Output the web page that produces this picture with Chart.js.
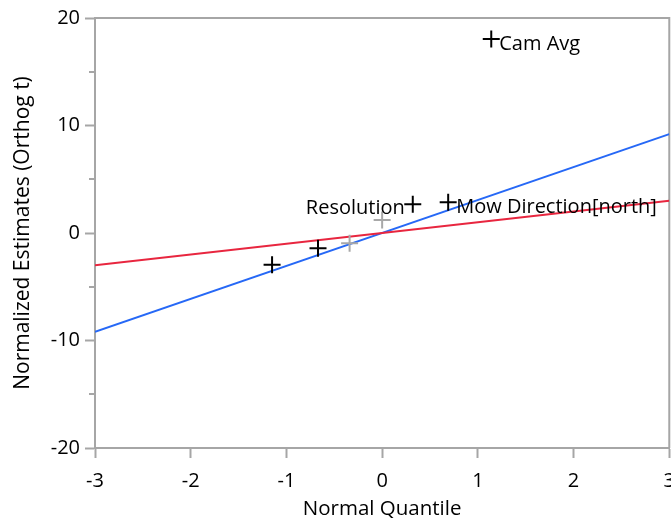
<!DOCTYPE html>
<html>
<head>
<meta charset="utf-8">
<script src="https://cdn.jsdelivr.net/npm/chart.js@4/dist/chart.umd.min.js"></script>
<style>
  html, body { margin: 0; padding: 0; background: #fff; overflow: hidden; }
  #wrap { width: 671px; height: 520px; overflow: hidden; }
</style>
</head>
<body>
<div id="wrap"><canvas id="c" width="686" height="520"></canvas></div>
<script>
// ---- data ----
const quantiles  = [-1.15, -0.67, -0.34, 0.0, 0.32, 0.69, 1.14];
const estimates  = [-2.95, -1.42, -0.95, 1.2, 2.67, 2.85, 18.05];
const pointNames = ['', '', '', '', 'Resolution', 'Mow Direction[north]', 'Cam Avg'];
const isSignificant = [true, true, false, false, true, true, true];
const refLineX  = [-3, 3];
const redLineY  = [-3, 3];
const blueLineY = [-9.2, 9.2];
const xTicks = [-3, -2, -1, 0, 1, 2, 3];
const yTicks = [-20, -10, 0, 10, 20];
const yMinorTicks = [-15, -5, 5, 15];

const FONT = '"Open Sans", "Noto Sans", sans-serif';
const AXIS_GRAY = '#a6a6a6';

const toXY = (xs, ys) => xs.map((x, i) => ({ x: x, y: ys[i] }));

const framePlugin = {
  id: 'frame',
  beforeDatasetsDraw(chart) {
    const { ctx, chartArea: a, scales } = chart;
    ctx.save();
    ctx.strokeStyle = AXIS_GRAY;
    ctx.lineWidth = 2;
    ctx.beginPath();
    ctx.moveTo(a.left, a.top); ctx.lineTo(a.right, a.top); ctx.lineTo(a.right, a.bottom);
    ctx.stroke();
    // minor y ticks
    ctx.beginPath();
    yMinorTicks.forEach(v => {
      const py = Math.round(scales.y.getPixelForValue(v));
      ctx.moveTo(a.left - 6, py); ctx.lineTo(a.left, py);
    });
    ctx.stroke();
    ctx.restore();
  }
};

const labelPlugin = {
  id: 'pointLabels',
  afterDatasetsDraw(chart) {
    const { ctx, scales } = chart;
    ctx.save();
    ctx.font = '20px ' + FONT;
    ctx.fillStyle = '#000';
    ctx.textBaseline = 'middle';
    pointNames.forEach((name, i) => {
      if (!name) return;
      const px = scales.x.getPixelForValue(quantiles[i]);
      const py = scales.y.getPixelForValue(estimates[i]);
      if (name === 'Resolution') {
        ctx.textAlign = 'right';
        ctx.fillText(name, px - 8, py + 4);
      } else {
        ctx.textAlign = 'left';
        ctx.fillText(name, px + 8, py + 5);
      }
    });
    ctx.restore();
  }
};

new Chart(document.getElementById('c'), {
  type: 'scatter',
  data: {
    datasets: [
      {
        label: 'Estimates',
        data: toXY(quantiles, estimates),
        pointStyle: 'cross',
        pointRadius: 8.5,
        pointHoverRadius: 8.5,
        pointBorderWidth: 2,
        pointBorderColor: isSignificant.map(s => s ? '#000000' : '#a8a8a8'),
        pointBackgroundColor: 'transparent',
        order: 0
      },
      {
        type: 'line',
        label: 'Red',
        data: toXY(refLineX, redLineY),
        borderColor: 'rgb(232,38,63)',
        borderWidth: 2,
        pointRadius: 0,
        order: 1
      },
      {
        type: 'line',
        label: 'Blue',
        data: toXY(refLineX, blueLineY),
        borderColor: 'rgb(38,104,246)',
        borderWidth: 2,
        pointRadius: 0,
        order: 1
      }
    ]
  },
  options: {
    responsive: false,
    animation: false,
    events: [],
    layout: { padding: { top: 18, right: 2, bottom: 0, left: 0 } },
    plugins: { legend: { display: false }, tooltip: { enabled: false } },
    scales: {
      x: {
        type: 'linear',
        min: -3, max: 3,
        afterBuildTicks: s => { s.ticks = xTicks.map(v => ({ value: v })); },
        afterFit: s => { s.height = 72; },
        grid: { drawOnChartArea: false, drawTicks: true, tickLength: 10, tickColor: AXIS_GRAY, tickWidth: 2 },
        border: { color: AXIS_GRAY, width: 2 },
        ticks: { color: '#000', font: { family: FONT, size: 20 }, padding: 11, maxRotation: 0 },
        title: { display: true, text: 'Normal Quantile', color: '#000', font: { family: FONT, size: 20.5 }, padding: { top: 0, bottom: -1.5 } }
      },
      y: {
        type: 'linear',
        min: -20, max: 20,
        afterBuildTicks: s => { s.ticks = yTicks.map(v => ({ value: v })); },
        afterFit: s => { s.width = 95; },
        grid: { drawOnChartArea: false, drawTicks: true, tickLength: 10, tickColor: AXIS_GRAY, tickWidth: 2 },
        border: { color: AXIS_GRAY, width: 2 },
        ticks: { color: '#000', font: { family: FONT, size: 20 }, padding: 5 },
        title: { display: true, text: 'Normalized Estimates (Orthog t)', color: '#000', font: { family: FONT, size: 21 }, padding: { top: 10, bottom: 0 } }
      }
    }
  },
  plugins: [framePlugin, labelPlugin]
});
</script>
</body>
</html>
